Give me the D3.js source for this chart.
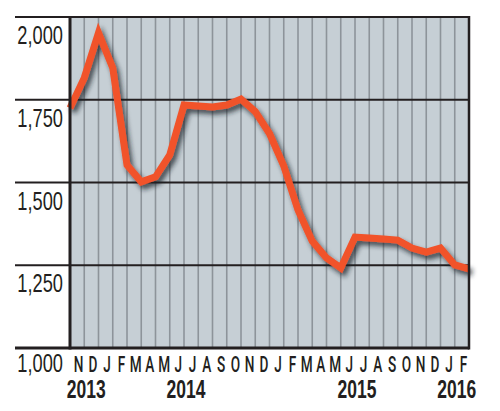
<!DOCTYPE html>
<html>
<head>
<meta charset="utf-8">
<script src="https://cdn.jsdelivr.net/npm/d3@7"></script>
<style>
  html, body { margin: 0; padding: 0; background: #ffffff; }
  svg { display: block; }
</style>
</head>
<body>
<svg id="chart" width="500" height="411"></svg>
<script>
// ---- data ----
const monthLabels = ["N","D","J","F","M","A","M","J","J","A","S","O","N","D",
                     "J","F","M","A","M","J","J","A","S","O","N","D","J","F"];
// values at each month boundary (Nov 2013 ... Mar 2016 start)
const values = [1725, 1816, 1952, 1846, 1553, 1502, 1517, 1583, 1734, 1731,
                1728, 1734, 1752, 1714, 1648, 1550, 1417, 1323, 1272, 1242,
                1335, 1332, 1329, 1326, 1302, 1290, 1302, 1251, 1239];
const yTicks = [1000, 1250, 1500, 1750, 2000];
const yearLabels = ["2013", "2014", "2015", "2016"];
const yearBoundary = [1, 8, 20, 27]; // boundary between two month categories

// ---- layout ----
const W = 500, H = 411;
const plot = { left: 70, right: 469, top: 17, bottom: 348 };
const svg = d3.select("#chart");

const x = d3.scaleLinear().domain([0, monthLabels.length]).range([plot.left, plot.right]);
const y = d3.scaleLinear().domain([1000, 2000]).range([plot.bottom, plot.top]);

const defs = svg.append("defs");
const f = defs.append("filter").attr("id", "shadow")
  .attr("x", "-10%").attr("y", "-10%").attr("width", "130%").attr("height", "130%");
f.append("feDropShadow").attr("dx", 3).attr("dy", 4).attr("stdDeviation", 2.6)
  .attr("flood-color", "#1d2328").attr("flood-opacity", 0.75);

// plot background
svg.append("rect")
  .attr("x", plot.left).attr("y", plot.top)
  .attr("width", plot.right - plot.left).attr("height", plot.bottom - plot.top)
  .attr("fill", "#c6cfd5");

// vertical month grid lines
svg.append("g").selectAll("line")
  .data(d3.range(1, monthLabels.length))
  .join("line")
  .attr("x1", d => x(d)).attr("x2", d => x(d))
  .attr("y1", plot.top).attr("y2", plot.bottom)
  .attr("stroke", "#8d949a").attr("stroke-width", 1.6);

// horizontal grid lines
svg.append("g").selectAll("line")
  .data(yTicks)
  .join("line")
  .attr("x1", 15).attr("x2", plot.right)
  .attr("y1", d => y(d)).attr("y2", d => y(d))
  .attr("stroke", "#231f20")
  .attr("stroke-width", d => d === 1000 ? 3 : 2);

// data line
const line = d3.line()
  .x((d, i) => x(i))
  .y(d => y(d));

svg.append("path")
  .datum(values)
  .attr("d", line)
  .attr("fill", "none")
  .attr("stroke", "#f1532a")
  .attr("stroke-width", 7)
  .attr("stroke-linejoin", "miter")
  .attr("stroke-miterlimit", 6)
  .attr("stroke-linecap", "butt")
  .attr("filter", "url(#shadow)");

// borders
svg.append("line")
  .attr("x1", plot.left).attr("x2", plot.left)
  .attr("y1", plot.top - 1).attr("y2", plot.bottom + 1.5)
  .attr("stroke", "#231f20").attr("stroke-width", 3);
svg.append("line")
  .attr("x1", plot.right).attr("x2", plot.right)
  .attr("y1", plot.top - 1).attr("y2", plot.bottom + 1.5)
  .attr("stroke", "#231f20").attr("stroke-width", 2.5);

// y-axis labels
svg.append("g").selectAll("text")
  .data(yTicks)
  .join("text")
  .attr("transform", d => `translate(63, ${y(d) + (d === 1000 ? 24 : 27)}) scale(0.73,1)`)
  .attr("text-anchor", "end")
  .attr("font-family", "Liberation Sans, Arial, sans-serif")
  .attr("font-size", 25)
  .attr("fill", "#231f20")
  .text(d => d3.format(",")(d));

// month labels
svg.append("g").selectAll("text")
  .data(monthLabels)
  .join("text")
  .attr("transform", (d, i) => `translate(${x(i + 0.5) + 1.5}, 372) scale(0.62,1)`)
  .attr("text-anchor", "middle")
  .attr("font-family", "Roboto, Liberation Sans, sans-serif")
  .attr("font-weight", 500)
  .attr("font-size", 22)
  .attr("fill", "#231f20")
  .text(d => d);

// year labels
svg.append("g").selectAll("text")
  .data(yearLabels)
  .join("text")
  .attr("transform", (d, i) => `translate(${x(yearBoundary[i]) + 2}, 398) scale(0.7,1)`)
  .attr("text-anchor", "middle")
  .attr("font-family", "Liberation Sans, Arial, sans-serif")
  .attr("font-weight", "bold")
  .attr("font-size", 25)
  .attr("fill", "#231f20")
  .text(d => d);
</script>
</body>
</html>
